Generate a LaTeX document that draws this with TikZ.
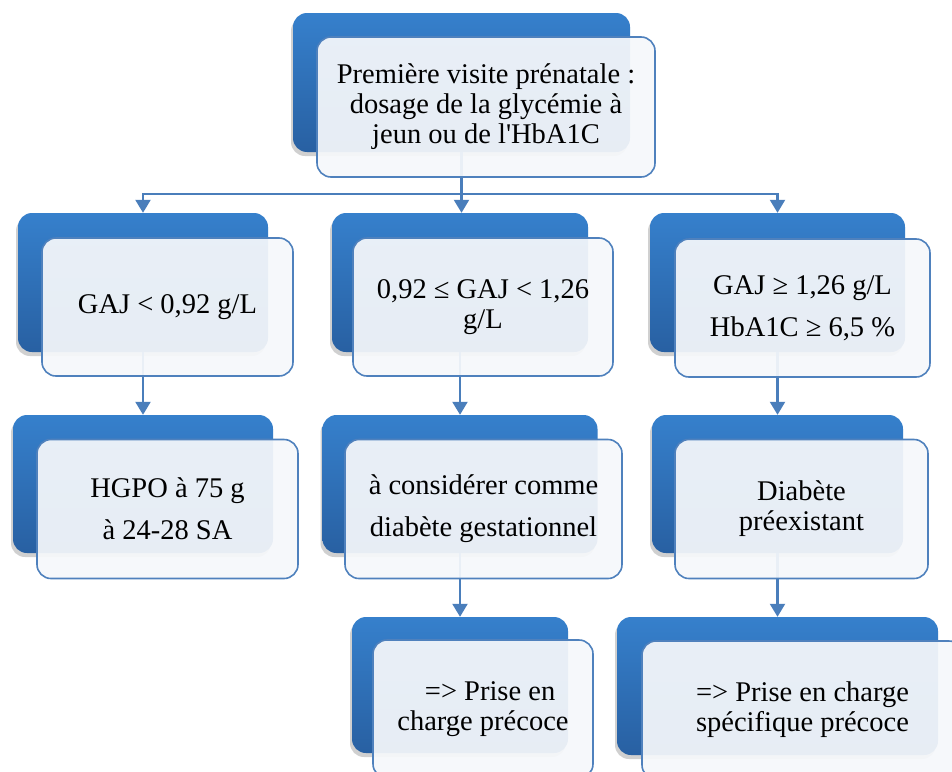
\documentclass[tikz,border=0pt]{standalone}
\usepackage{fontspec}
\setmainfont{Liberation Serif}
\usetikzlibrary{arrows.meta,shadows}
\definecolor{bluetop}{RGB}{54,128,204}
\definecolor{bluebot}{RGB}{40,96,162}
\definecolor{edgeblue}{RGB}{79,129,189}
\definecolor{connblue}{RGB}{74,126,187}
\definecolor{frontfill}{RGB}{246,248,251}
\tikzset{
  back/.style={rectangle, rounded corners=14pt, top color=bluetop, bottom color=bluebot,
    draw=none, inner sep=0pt,
    drop shadow={shadow xshift=-2pt, shadow yshift=-4pt, opacity=0.3, fill=black!60}},
  front/.style={rectangle, rounded corners=14pt, draw=edgeblue, line width=1.6pt,
    fill=frontfill, fill opacity=0.93, text opacity=1, inner sep=0pt, align=center,
    font=\rmfamily\fontsize{28.5}{30}\selectfont},
  conn/.style={draw=connblue, line width=2.2pt},
  arr/.style={conn, -{Triangle[width=15pt,length=13pt]}}
}
\begin{document}
\begin{tikzpicture}[x=1pt,y=-1pt]
\useasboundingbox (0,0) rectangle (952,771);
\clip (0,0) rectangle (952,771);
\fill[white] (0,0) rectangle (952,771);
% back boxes
\node[back, minimum width=337pt, minimum height=139pt] (tb) at (461.5,82.5) {};
\node[back, minimum width=250pt, minimum height=139pt] (ab) at (143,282.5) {};
\node[back, minimum width=256pt, minimum height=139pt] (bb) at (460,282.5) {};
\node[back, minimum width=255pt, minimum height=139pt] (cb) at (777.5,282.5) {};
\node[back, minimum width=260pt, minimum height=138pt] (ab3) at (143,484) {};
\node[back, minimum width=275pt, minimum height=138pt] (bb3) at (460,484) {};
\node[back, minimum width=251pt, minimum height=138pt] (cb3) at (777.5,484) {};
\node[back, minimum width=216pt, minimum height=136pt] (bb4) at (460,685) {};
\node[back, minimum width=321pt, minimum height=138pt] (cb4) at (777.5,686) {};
% connectors
\path (tb.south) ++(0,42) coordinate (hub);
\draw[conn] (tb.south) -- (hub);
\draw[arr] (hub) -| (ab.north);
\draw[arr] (hub) -- (hub |- bb.north);
\draw[arr] (hub) -| (cb.north);
\draw[arr] (ab.south) -- (ab3.north);
\draw[arr] (bb.south) -- (bb3.north);
\draw[arr] (cb.south) -- (cb3.north);
\draw[arr] (bb3.south) -- (bb4.north);
\draw[arr] (cb3.south) -- (cb4.north);
% front boxes
\node[front, minimum width=338pt, minimum height=140pt] (t) at (486,107)
  {Première visite prénatale :\\dosage de la glycémie à\\jeun ou de l\textquotesingle HbA1C};
\node[front, minimum width=251pt, minimum height=138pt] (a) at (167.5,307)
  {GAJ < 0,92 g/L};
\node[front, minimum width=260pt, minimum height=138pt] (b) at (483,307)
  {0,92 ≤ GAJ < 1,26\\g/L};
\node[front, minimum width=255pt, minimum height=138pt] (c) at (802.5,308)
  {GAJ ≥ 1,26 g/L\\[12pt]HbA1C ≥ 6,5 \%};
\node[front, minimum width=261pt, minimum height=139pt] (a3) at (167.5,509)
  {HGPO à 75 g\\[12pt]à 24-28 SA};
\node[front, minimum width=277pt, minimum height=139pt] (b3) at (483.5,509)
  {à considérer comme\\[12pt]diabète gestationnel};
\node[front, minimum width=253pt, minimum height=139pt] (c3) at (801.5,509)
  {Diabète\\préexistant};
\node[front, minimum width=220pt, minimum height=138pt] (b4) at (483,709)
  {\ \ => Prise en\\charge précoce};
\node[front, minimum width=321pt, minimum height=138pt] (c4) at (802.5,710)
  {=> Prise en charge\\spécifique précoce};
\end{tikzpicture}
\end{document}
